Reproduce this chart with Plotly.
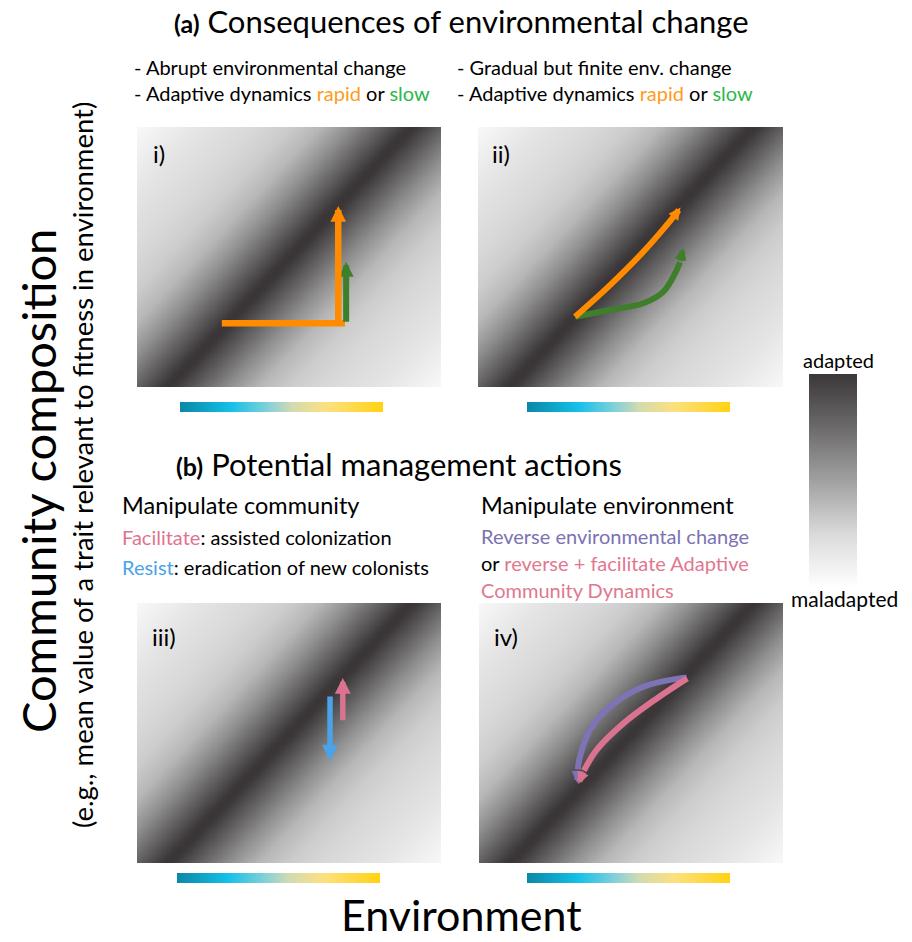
import numpy as np
import plotly.graph_objects as go

W, H = 912, 942          # target picture size
FONT = "Lato"

# ---------------- data -----------------
# adaptive landscape: ridge of best adapted community per environment
ridge_intercept = 0.10
ridge_slope = 0.80
env_grid = np.linspace(0, 1, 121)
comm_grid = np.linspace(0, 1, 101)
landscape_offsets = [0.0, 0.02, 0.10, 0.20, 0.30, 0.40, 0.50, 0.70, 0.90]
landscape_grays = ["#393435", "#3d393a", "#615f60", "#908f90", "#b8b7b8",
                   "#cdcccd", "#d8d7d8", "#e5e5e5", "#f8f8f8"]

# environment colour bar
env_stops = [0.0, 0.25, 0.45, 0.55, 0.72, 0.90, 1.0]
env_colors = ["#0a88a6", "#14c0ea", "#8fd2d4", "#d2dbb0", "#fde07f", "#ffd73a", "#ffd30f"]

# adaptation legend bar (bottom -> top)
adapt_stops = [0.0, 0.25, 0.5, 0.75, 1.0]
adapt_colors = ["#ffffff", "#dadada", "#a2a1a2", "#6c6a6b", "#3c3839"]

# (i) abrupt environmental change
i_env_x = [0.279, 0.684]
i_env_y = [0.245, 0.245]
i_rapid_x = [0.662, 0.662]
i_rapid_y = [0.245, 0.696]
i_slow_x = [0.688, 0.688]
i_slow_y = [0.245, 0.482]

# (ii) gradual but finite change
ii_rapid_x = [0.318, 0.433, 0.542, 0.619, 0.645, 0.664]
ii_rapid_y = [0.270, 0.392, 0.520, 0.623, 0.660, 0.690]
ii_slow_x = [0.318, 0.433, 0.542, 0.608, 0.646, 0.662, 0.673]
ii_slow_y = [0.270, 0.296, 0.322, 0.367, 0.437, 0.480, 0.535]

# (iii) manipulate community
iii_resist_x = [0.635, 0.635]
iii_resist_y = [0.646, 0.393]
iii_facil_x = [0.677, 0.677]
iii_facil_y = [0.543, 0.712]

# (iv) manipulate environment
iv_reverse_x = [0.683, 0.540, 0.431, 0.365, 0.332, 0.325, 0.323]
iv_reverse_y = [0.714, 0.678, 0.601, 0.512, 0.409, 0.360, 0.307]
iv_revfac_x = [0.685, 0.585, 0.475, 0.387, 0.345, 0.327]
iv_revfac_y = [0.710, 0.633, 0.537, 0.435, 0.355, 0.304]

ORANGE = "#ff8c00"
GREEN = "#3f7f2c"
BLUE = "#4aa3e8"
PINK = "#d9738f"
PURPLE = "#7e73b5"

# ---------------- layout helpers -----------------
def px_x(px):
    return px / W

def px_y(py):
    return 1 - py / H

def xdom(l, r):
    return [px_x(l), px_x(r)]

def ydom(t, b):
    return [px_y(b), px_y(t)]

panels = {1: (137, 441, 127, 387), 2: (478, 783, 127, 387),
          3: (137, 441, 603, 863), 4: (479, 783, 603, 863)}
envbars = {5: (180, 383, 402, 412), 6: (527, 730, 402, 412),
           7: (177, 380, 873, 883), 8: (527, 730, 873, 883)}
legendbar = {9: (809, 857, 374, 587)}

fig = go.Figure()
layout_axes = {}

def ax_names(n):
    return ("x" if n == 1 else f"x{n}"), ("y" if n == 1 else f"y{n}")

def add_axes(n, box):
    l, r, t, b = box
    xa, ya = ax_names(n)
    key_x = "xaxis" if n == 1 else f"xaxis{n}"
    key_y = "yaxis" if n == 1 else f"yaxis{n}"
    layout_axes[key_x] = dict(domain=xdom(l, r), range=[0, 1], visible=False,
                              fixedrange=True, anchor=ya)
    layout_axes[key_y] = dict(domain=ydom(t, b), range=[0, 1], visible=False,
                              fixedrange=True, anchor=xa)

# landscape
E, C = np.meshgrid(env_grid, comm_grid)
Z = np.abs(E - (ridge_intercept + ridge_slope * C))
lmax = landscape_offsets[-1]
land_scale = [[o / lmax, c] for o, c in zip(landscape_offsets, landscape_grays)]

for n, box in panels.items():
    add_axes(n, box)
    xa, ya = ax_names(n)
    fig.add_trace(go.Heatmap(x=env_grid, y=comm_grid, z=Z, zmin=0, zmax=lmax,
                             colorscale=land_scale, showscale=False, zsmooth="best",
                             hoverinfo="skip", xaxis=xa, yaxis=ya))

env_scale = [[s, c] for s, c in zip(env_stops, env_colors)]
gx = np.linspace(0, 1, 60)
for n, box in envbars.items():
    add_axes(n, box)
    xa, ya = ax_names(n)
    fig.add_trace(go.Heatmap(x=gx, y=[0, 1], z=[gx, gx], zmin=0, zmax=1,
                             colorscale=env_scale, showscale=False, zsmooth="best",
                             hoverinfo="skip", xaxis=xa, yaxis=ya))

adapt_scale = [[s, c] for s, c in zip(adapt_stops, adapt_colors)]
for n, box in legendbar.items():
    add_axes(n, box)
    xa, ya = ax_names(n)
    gy = np.linspace(0, 1, 60)
    fig.add_trace(go.Heatmap(x=[0, 1], y=gy, z=[[v, v] for v in gy], zmin=0, zmax=1,
                             colorscale=adapt_scale, showscale=False, zsmooth="best",
                             hoverinfo="skip", xaxis=xa, yaxis=ya))

annotations = []

def line(n, xs, ys, color, width, spline=False):
    xa, ya = ax_names(n)
    fig.add_trace(go.Scatter(x=xs, y=ys, mode="lines",
                             line=dict(color=color, width=width,
                                       shape="spline" if spline else "linear"),
                             hoverinfo="skip", showlegend=False, xaxis=xa, yaxis=ya))

def arrow(n, tail, tip, color, width, size):
    xa, ya = ax_names(n)
    annotations.append(dict(x=tip[0], y=tip[1], ax=tail[0], ay=tail[1],
                            xref=xa, yref=ya, axref=xa, ayref=ya, text="",
                            showarrow=True, arrowhead=2, arrowsize=size,
                            arrowwidth=width, arrowcolor=color))

def curve_arrow(n, xs, ys, color, width, size):
    line(n, xs[:-1], ys[:-1], color, width, spline=True)
    arrow(n, (xs[-2], ys[-2]), (xs[-1], ys[-1]), color, width, size)

# panel i
line(1, i_env_x, i_env_y, ORANGE, 6.5)
arrow(1, (i_slow_x[0], i_slow_y[0]), (i_slow_x[1], i_slow_y[1]), GREEN, 6, 0.5)
arrow(1, (i_rapid_x[0], i_rapid_y[0]), (i_rapid_x[1], i_rapid_y[1]), ORANGE, 6.5, 0.48)
# panel ii
curve_arrow(2, ii_slow_x, ii_slow_y, GREEN, 6, 0.4)
curve_arrow(2, ii_rapid_x, ii_rapid_y, ORANGE, 6, 0.4)
# panel iii
arrow(3, (iii_resist_x[0], iii_resist_y[0]), (iii_resist_x[1], iii_resist_y[1]), BLUE, 5.5, 0.58)
arrow(3, (iii_facil_x[0], iii_facil_y[0]), (iii_facil_x[1], iii_facil_y[1]), PINK, 5.5, 0.58)
# panel iv
curve_arrow(4, iv_reverse_x, iv_reverse_y, PURPLE, 6, 0.4)
curve_arrow(4, iv_revfac_x, iv_revfac_y, PINK, 6, 0.4)

def text(px, py, s, size, xanchor="left", color="black", angle=0):
    annotations.append(dict(x=px_x(px), y=px_y(py), xref="paper", yref="paper",
                            text=s, showarrow=False, xanchor=xanchor, yanchor="middle",
                            textangle=angle, font=dict(family=FONT, size=size, color=color)))

RAPID = "<span style='color:#ff9b21'>rapid</span>"
SLOW = "<span style='color:#2db84b'>slow</span>"

text(462, 21, "<b><span style='font-size:25px'>(a)</span></b> Consequences of environmental change", 31, "center")
text(132, 67, "- Abrupt environmental change", 20)
text(132, 93, f"- Adaptive dynamics {RAPID} or {SLOW}", 20)
text(455, 67, "- Gradual but finite env. change", 20)
text(455, 93, f"- Adaptive dynamics {RAPID} or {SLOW}", 20)

text(399, 464, "<b><span style='font-size:25px'>(b)</span></b> Potential management actions", 31, "center")
text(120, 505, "Manipulate community", 23.5)
text(120, 537, "<span style='color:#e0748f'>Facilitate</span>: assisted colonization", 20)
text(120, 567, "<span style='color:#4aa3e8'>Resist</span>: eradication of new colonists", 20)
text(479, 505, "Manipulate environment", 23.5)
text(479, 536, "<span style='color:#7b72b3'>Reverse environmental change</span>", 20)
text(479, 563, "or <span style='color:#e07890'>reverse + facilitate Adaptive</span>", 20)
text(479, 590, "<span style='color:#e07890'>Community Dynamics</span>", 20)

text(151, 154, "i)", 24)
text(490, 154, "ii)", 24)
text(150, 636, "iii)", 24)
text(492, 636, "iv)", 24)

text(838, 360, "adapted", 20, "center")
text(844, 598, "maladapted", 21, "center")

text(38, 481, "Community composition", 47, "center", angle=-90)
text(82, 465, "(e.g., mean value of a trait relevant to fitness in environment)", 27.5, "center", angle=-90)
text(461, 914, "Environment", 43, "center")

fig.update_layout(width=W, height=H, margin=dict(l=0, r=0, t=0, b=0),
                  paper_bgcolor="white", plot_bgcolor="white", showlegend=False,
                  hovermode=False, annotations=annotations, **layout_axes)

fig.write_html("out.html",
               config={"displayModeBar": False, "staticPlot": True},
               post_script="document.body.style.margin='0px';"
                           "document.body.style.overflow='hidden';")
